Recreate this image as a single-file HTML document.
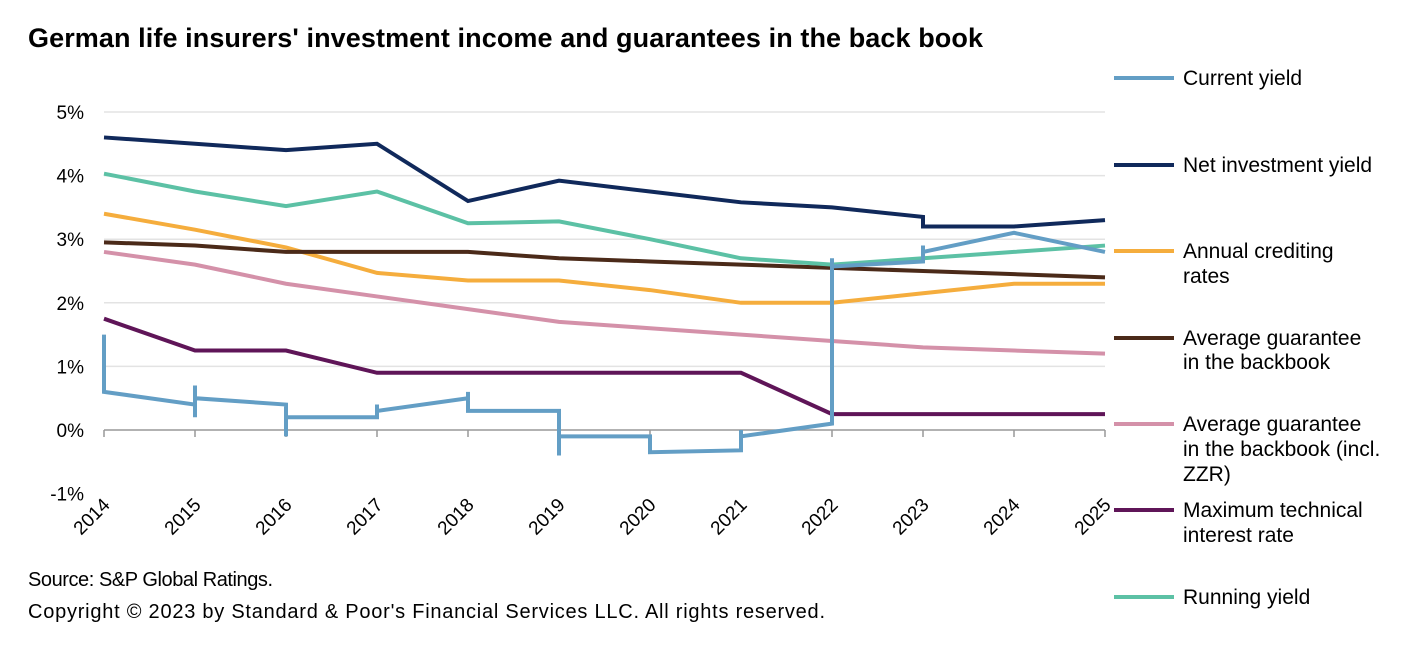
<!DOCTYPE html>
<html><head><meta charset="utf-8"><style>
body{margin:0;background:#fff;font-family:"Liberation Sans",Arial,sans-serif;}
svg text{font-family:"Liberation Sans",Arial,sans-serif;}
</style></head><body>
<svg id="c" width="1408" height="660" viewBox="0 0 1408 660">
<text x="28" y="47" font-size="27" font-weight="bold" fill="#000" textLength="955">German life insurers' investment income and guarantees in the back book</text>
<text x="28" y="586" font-size="20" fill="#000" textLength="245">Source: S&amp;P Global Ratings.</text>
<text x="28" y="618" font-size="20" fill="#000" textLength="797">Copyright © 2023 by Standard &amp; Poor's Financial Services LLC. All rights reserved.</text>
<g id="grid"></g><g id="axes"></g><g id="series"></g><g id="legend"></g>
</svg>
<script>
const years=[2014,2015,2016,2017,2018,2019,2020,2021,2022,2023,2024,2025];
const yTicks=[-1,0,1,2,3,4,5];
const yTickLabels=["-1%","0%","1%","2%","3%","4%","5%"];
const netInvestment=[[2014,4.6],[2015,4.5],[2016,4.4],[2017,4.5],[2018,3.6],[2019,3.92],[2020,3.75],[2021,3.58],[2022,3.5],[2023,3.35],[2023,3.2],[2024,3.2],[2025,3.3]];
const runningYield=[4.03,3.75,3.52,3.75,3.25,3.28,3.0,2.7,2.6,2.7,2.8,2.9];
const annualCrediting=[3.4,3.15,2.87,2.47,2.35,2.35,2.2,2.0,2.0,2.15,2.3,2.3];
const avgGuarantee=[2.95,2.9,2.8,2.8,2.8,2.7,2.65,2.6,2.55,2.5,2.45,2.4];
const avgGuaranteeZZR=[2.8,2.6,2.3,2.1,1.9,1.7,1.6,1.5,1.4,1.3,1.25,1.2];
const maxTechnical=[1.75,1.25,1.25,0.9,0.9,0.9,0.9,0.9,0.25,0.25,0.25,0.25];
const currentYield=[[2014,1.5],[2014,0.6],[2015,0.4],[2015,0.7],[2015,0.2],[2015,0.5],[2016,0.4],[2016,-0.1],[2016,0.2],[2017,0.2],[2017,0.4],[2017,0.3],[2018,0.5],[2018,0.6],[2018,0.3],[2019,0.3],[2019,-0.4],[2019,-0.1],[2020,-0.1],[2020,-0.35],[2021,-0.32],[2021,0],[2021,-0.1],[2022,0.1],[2022,2.7],[2022,2.57],[2023,2.65],[2023,2.9],[2023,2.8],[2024,3.1],[2025,2.8]];

const NS="http://www.w3.org/2000/svg";
const x=v=>104+(v-2014)*(1105-104)/11;
const y=v=>430-v*63.6;
function mk(tag,attrs,parent){const e=document.createElementNS(NS,tag);for(const k in attrs)e.setAttribute(k,attrs[k]);document.getElementById(parent).appendChild(e);return e;}
yTicks.forEach((t,i)=>{
  if(t>0){const g=mk('line',{x1:104,x2:1105,y1:y(t),y2:y(t),stroke:'#e3e3e3','stroke-width':1.5},'grid');
  
  }
  const l=mk('text',{x:84,y:y(t)+7,'font-size':19,'text-anchor':'end',fill:'#000'},'axes');
  l.textContent=yTickLabels[i];
  
  
});
const ax=mk('line',{x1:104,x2:1105,y1:y(0),y2:y(0),stroke:'#999','stroke-width':1.5},'axes');


years.forEach(yr=>{
  const tk=mk('line',{x1:x(yr),x2:x(yr),y1:y(0),y2:y(0)+7,stroke:'#999','stroke-width':1.5},'axes');
  
  
  const t=mk('text',{x:x(yr)+7,y:506,'font-size':19,'text-anchor':'end',fill:'#000',transform:`rotate(-45 ${x(yr)+7} 506)`},'axes');
  t.textContent=yr;
  
  
});
function line(pts,color,name){
  const p=mk('polyline',{points:pts.map(p=>x(p[0])+','+y(p[1])).join(' '),fill:'none',stroke:color,'stroke-width':4,'stroke-linejoin':'miter'},'series');
  
  
}
const z=a=>a.map((v,i)=>[years[i],v]);
line(z(avgGuaranteeZZR),'#d491a9','avg-guarantee-zzr-line');
line(z(annualCrediting),'#f5ad3d','annual-crediting-line');
line(z(avgGuarantee),'#4b2a19','avg-guarantee-line');
line(z(maxTechnical),'#5f1558','max-technical-rate-line');
line(z(runningYield),'#5cc1a5','running-yield-line');
line(netInvestment,'#10295b','net-investment-yield-line');
line(currentYield,'#639ec5','current-yield-line');
const legend=[["Current yield","#639ec5",78],["Net investment yield","#10295b",165],["Annual crediting","#f5ad3d",251],["rates",null,276],["Average guarantee","#4b2a19",338],["in the backbook",null,362],["Average guarantee","#d491a9",424],["in the backbook (incl.",null,449],["ZZR)",null,474],["Maximum technical","#5f1558",510],["interest rate",null,535],["Running yield","#5cc1a5",597]];
legend.forEach(l=>{
  const yy=l[2];
  if(l[1]){const s=mk('line',{x1:1114,x2:1174,y1:yy,y2:yy,stroke:l[1],'stroke-width':4},'legend');
  
  }
  const t=mk('text',{x:1183,y:yy+7,'font-size':21,fill:'#000'},'legend');
  t.textContent=l[0];
  
  
});
</script>
</body></html>
